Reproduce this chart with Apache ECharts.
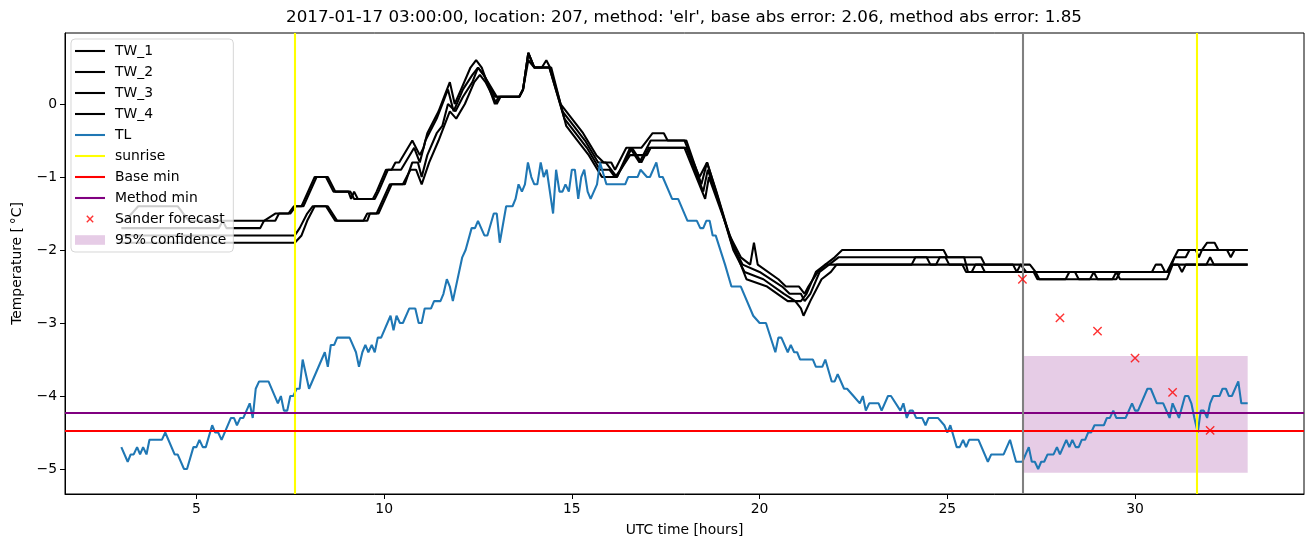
<!DOCTYPE html>
<html>
<head>
<meta charset="utf-8">
<script src="https://cdn.jsdelivr.net/npm/echarts@6/dist/echarts.min.js"></script>
<style>
html,body{margin:0;padding:0;background:#fff;}
#chart{width:1313px;height:547px;}
</style>
</head>
<body>
<div id="chart"></div>
<script>
// ---- data (hours UTC, temperature in °C) ----
const xTicks = [5, 10, 15, 20, 25, 30];
const yTicks = [-5, -4, -3, -2, -1, 0];

const TL = [[3.00,-4.7],[3.17,-4.9],[3.25,-4.8],[3.33,-4.8],[3.42,-4.7],[3.50,-4.8],[3.58,-4.7],[3.67,-4.8],[3.75,-4.6],[4.08,-4.6],[4.17,-4.5],[4.42,-4.8],[4.50,-4.8],[4.67,-5.0],[4.75,-5.0],[4.92,-4.7],[5.00,-4.7],[5.08,-4.6],[5.17,-4.7],[5.25,-4.7],[5.42,-4.4],[5.50,-4.5],[5.58,-4.5],[5.67,-4.6],[5.92,-4.3],[6.00,-4.3],[6.08,-4.4],[6.17,-4.3],[6.25,-4.3],[6.42,-4.1],[6.50,-4.3],[6.58,-3.9],[6.67,-3.8],[6.92,-3.8],[7.17,-4.1],[7.25,-4.0],[7.33,-4.2],[7.42,-4.2],[7.50,-4.0],[7.58,-4.0],[7.67,-3.9],[7.75,-3.9],[7.83,-3.5],[8.00,-3.9],[8.42,-3.4],[8.50,-3.6],[8.58,-3.3],[8.67,-3.3],[8.75,-3.2],[9.08,-3.2],[9.25,-3.4],[9.33,-3.6],[9.42,-3.4],[9.50,-3.3],[9.58,-3.4],[9.67,-3.3],[9.75,-3.4],[9.83,-3.2],[9.92,-3.2],[10.17,-2.9],[10.25,-3.1],[10.33,-2.9],[10.42,-3.0],[10.50,-3.0],[10.67,-2.8],[10.83,-2.8],[10.92,-3.0],[11.00,-3.0],[11.08,-2.8],[11.25,-2.8],[11.33,-2.7],[11.50,-2.7],[11.58,-2.6],[11.67,-2.4],[11.75,-2.5],[11.83,-2.7],[12.08,-2.1],[12.17,-2.0],[12.33,-1.7],[12.42,-1.7],[12.50,-1.6],[12.67,-1.8],[12.75,-1.8],[12.92,-1.5],[13.00,-1.5],[13.08,-1.9],[13.25,-1.4],[13.42,-1.4],[13.50,-1.3],[13.58,-1.1],[13.67,-1.2],[13.75,-1.1],[13.83,-0.8],[13.92,-1.0],[14.00,-1.1],[14.08,-1.1],[14.17,-0.8],[14.25,-1.0],[14.33,-0.9],[14.50,-1.5],[14.58,-0.9],[14.67,-1.2],[14.75,-1.2],[14.83,-1.1],[14.92,-1.2],[15.00,-0.9],[15.08,-0.9],[15.17,-1.3],[15.25,-1.0],[15.33,-0.9],[15.42,-1.2],[15.50,-1.3],[15.67,-1.1],[15.75,-0.8],[15.92,-1.1],[16.42,-1.1],[16.50,-1.0],[16.75,-1.0],[16.83,-0.9],[17.00,-1.0],[17.08,-1.0],[17.25,-0.8],[17.33,-1.0],[17.42,-1.0],[17.67,-1.3],[17.83,-1.3],[18.08,-1.6],[18.33,-1.6],[18.42,-1.7],[18.50,-1.7],[18.58,-1.6],[18.67,-1.6],[18.75,-1.8],[18.83,-1.8],[19.08,-2.2],[19.25,-2.5],[19.50,-2.5],[19.83,-2.9],[20.00,-3.0],[20.17,-3.0],[20.42,-3.4],[20.50,-3.2],[20.58,-3.2],[20.75,-3.4],[20.83,-3.3],[20.92,-3.4],[21.00,-3.4],[21.08,-3.5],[21.42,-3.5],[21.50,-3.6],[21.67,-3.6],[21.75,-3.5],[21.92,-3.8],[22.00,-3.8],[22.08,-3.7],[22.25,-3.9],[22.33,-3.9],[22.50,-4.0],[22.67,-4.1],[22.75,-4.0],[22.83,-4.2],[22.92,-4.1],[23.17,-4.1],[23.25,-4.2],[23.42,-4.0],[23.50,-4.0],[23.75,-4.2],[23.83,-4.1],[23.92,-4.3],[24.00,-4.2],[24.08,-4.2],[24.17,-4.3],[24.33,-4.3],[24.42,-4.4],[24.50,-4.3],[24.75,-4.3],[24.92,-4.4],[25.00,-4.5],[25.08,-4.4],[25.25,-4.7],[25.33,-4.7],[25.42,-4.6],[25.50,-4.7],[25.58,-4.6],[25.83,-4.6],[26.08,-4.9],[26.17,-4.8],[26.50,-4.8],[26.67,-4.6],[26.83,-4.9],[27.00,-4.9],[27.17,-4.7],[27.25,-4.9],[27.33,-4.9],[27.42,-5.0],[27.50,-4.9],[27.58,-4.9],[27.67,-4.8],[27.83,-4.8],[27.92,-4.7],[28.00,-4.8],[28.17,-4.6],[28.25,-4.7],[28.33,-4.6],[28.42,-4.7],[28.50,-4.7],[28.58,-4.6],[28.67,-4.6],[28.75,-4.5],[28.83,-4.5],[28.92,-4.4],[29.17,-4.4],[29.25,-4.3],[29.33,-4.3],[29.42,-4.2],[29.50,-4.3],[29.75,-4.3],[29.92,-4.1],[30.00,-4.2],[30.08,-4.2],[30.33,-3.9],[30.42,-3.9],[30.58,-4.1],[30.75,-4.1],[30.92,-4.3],[31.00,-4.1],[31.17,-4.3],[31.33,-4.0],[31.42,-4.0],[31.50,-4.1],[31.58,-4.3],[31.67,-4.5],[31.75,-4.2],[31.83,-4.2],[31.92,-4.3],[32.00,-4.1],[32.08,-4.0],[32.25,-4.0],[32.33,-3.9],[32.42,-3.9],[32.50,-4.0],[32.58,-4.0],[32.75,-3.8],[32.83,-4.1],[33.00,-4.1]];

const TW_1 = [[3.0,-1.6],[3.1,-1.6],[3.45,-1.4],[4.5,-1.4],[4.8,-1.6],[6.8,-1.6],[7.1,-1.5],[7.45,-1.5],[7.6,-1.4],[7.8,-1.4],[8.15,-1.0],[8.5,-1.0],[8.7,-1.2],[9.05,-1.2],[9.12,-1.3],[9.2,-1.2],[9.3,-1.3],[9.7,-1.3],[9.8,-1.2],[10.05,-0.9],[10.2,-0.9],[10.3,-0.8],[10.4,-0.8],[10.75,-0.5],[10.95,-0.7],[11.05,-0.6],[11.15,-0.4],[11.45,-0.1],[11.6,0.1],[11.75,0.3],[11.88,0.0],[12.05,0.2],[12.3,0.5],[12.45,0.6],[12.6,0.5],[12.95,0.0],[13.05,0.1],[13.6,0.1],[13.7,0.2],[13.84,0.7],[14.0,0.5],[14.2,0.5],[14.32,0.6],[14.42,0.5],[14.7,0.0],[15.0,-0.2],[15.3,-0.4],[15.65,-0.7],[15.85,-0.8],[16.05,-0.8],[16.15,-0.9],[16.45,-0.6],[16.85,-0.6],[17.0,-0.5],[17.15,-0.4],[17.45,-0.4],[17.55,-0.5],[18.0,-0.5],[18.4,-1.0],[18.6,-0.8],[18.85,-1.2],[19.2,-1.8],[19.5,-2.1],[19.75,-2.2],[19.85,-1.9],[19.95,-2.2],[20.5,-2.4],[20.7,-2.5],[21.05,-2.5],[21.2,-2.6],[21.3,-2.5],[21.55,-2.3],[21.75,-2.2],[22.0,-2.1],[22.2,-2.0],[24.9,-2.0],[25.0,-2.1],[25.9,-2.1],[26.0,-2.2],[26.95,-2.2],[27.1,-2.3],[30.85,-2.3],[31.05,-2.1],[31.15,-2.0],[31.62,-2.0],[31.7,-2.1],[31.78,-2.0],[31.92,-1.9],[32.12,-1.9],[32.22,-2.0],[32.45,-2.0],[32.55,-2.1],[32.65,-2.0],[33.0,-2.0]];

const TW_2 = [[3.0,-1.7],[5.6,-1.7],[5.7,-1.6],[5.8,-1.7],[6.7,-1.7],[6.8,-1.6],[7.1,-1.6],[7.2,-1.5],[7.5,-1.5],[7.65,-1.4],[7.85,-1.4],[8.2,-1.0],[8.45,-1.0],[8.65,-1.2],[9.1,-1.2],[9.2,-1.3],[9.75,-1.3],[9.85,-1.2],[10.1,-0.9],[10.45,-0.9],[10.8,-0.6],[10.95,-0.8],[11.1,-0.5],[11.4,-0.2],[11.55,0.0],[11.7,0.2],[11.85,-0.1],[12.1,0.2],[12.35,0.4],[12.5,0.5],[12.65,0.4],[12.95,0.1],[13.6,0.1],[13.7,0.2],[13.84,0.7],[14.0,0.5],[14.4,0.5],[14.75,-0.1],[15.05,-0.3],[15.35,-0.5],[15.7,-0.8],[15.9,-0.8],[16.2,-1.0],[16.55,-0.6],[16.8,-0.8],[17.0,-0.6],[17.1,-0.5],[18.05,-0.5],[18.45,-1.1],[18.6,-0.8],[18.9,-1.3],[19.25,-1.9],[19.55,-2.2],[20.0,-2.3],[20.6,-2.5],[20.8,-2.6],[21.1,-2.6],[21.2,-2.7],[21.35,-2.6],[21.6,-2.3],[21.85,-2.2],[22.1,-2.1],[25.45,-2.1],[25.55,-2.3],[25.65,-2.3],[25.75,-2.2],[26.75,-2.2],[26.85,-2.3],[26.95,-2.2],[27.2,-2.2],[27.35,-2.3],[28.15,-2.3],[28.3,-2.3],[30.45,-2.3],[30.55,-2.2],[30.7,-2.2],[30.8,-2.3],[30.9,-2.3],[31.05,-2.1],[31.35,-2.1],[31.45,-2.0],[33.0,-2.0]];

const TW_3 = [[3.0,-1.8],[6.2,-1.8],[7.62,-1.8],[7.75,-1.7],[7.95,-1.5],[8.1,-1.4],[8.5,-1.4],[8.75,-1.6],[9.45,-1.6],[9.55,-1.5],[9.8,-1.5],[10.15,-1.1],[10.55,-1.1],[10.75,-0.8],[10.9,-0.8],[11.0,-1.0],[11.15,-0.7],[11.4,-0.4],[11.55,-0.3],[11.7,0.0],[11.9,-0.1],[12.1,0.1],[12.35,0.3],[12.5,0.5],[12.65,0.4],[13.0,0.1],[13.6,0.1],[13.7,0.2],[13.84,0.7],[14.0,0.5],[14.4,0.5],[14.8,-0.2],[15.1,-0.4],[15.4,-0.6],[15.75,-0.9],[16.0,-0.9],[16.15,-1.0],[16.3,-0.9],[16.55,-0.7],[17.0,-0.7],[17.1,-0.6],[18.05,-0.6],[18.5,-1.2],[18.62,-0.9],[18.95,-1.4],[19.3,-2.0],[19.6,-2.3],[20.1,-2.4],[20.65,-2.6],[20.95,-2.7],[21.1,-2.8],[21.17,-2.9],[21.35,-2.7],[21.65,-2.4],[21.9,-2.3],[22.05,-2.2],[24.05,-2.2],[24.15,-2.1],[24.45,-2.1],[24.55,-2.2],[24.7,-2.2],[24.8,-2.1],[24.95,-2.1],[25.05,-2.2],[25.9,-2.2],[26.0,-2.3],[27.3,-2.3],[27.4,-2.4],[28.15,-2.4],[28.25,-2.3],[28.4,-2.3],[28.5,-2.4],[28.8,-2.4],[28.9,-2.3],[29.0,-2.4],[29.4,-2.4],[29.5,-2.3],[29.6,-2.4],[30.85,-2.4],[31.0,-2.2],[31.9,-2.2],[32.0,-2.1],[32.1,-2.2],[33.0,-2.2]];

const TW_4 = [[3.0,-1.9],[6.25,-1.9],[7.62,-1.9],[7.8,-1.8],[7.95,-1.6],[8.15,-1.4],[8.45,-1.4],[8.7,-1.6],[9.55,-1.6],[9.62,-1.5],[9.85,-1.5],[10.2,-1.1],[10.5,-1.1],[10.7,-0.9],[10.85,-0.9],[11.0,-1.1],[11.2,-0.8],[11.45,-0.5],[11.6,-0.3],[11.75,-0.1],[11.92,-0.2],[12.15,0.0],[12.4,0.3],[12.55,0.4],[12.7,0.3],[13.0,0.0],[13.1,0.1],[13.6,0.1],[13.7,0.2],[13.84,0.6],[14.0,0.5],[14.45,0.5],[14.85,-0.3],[15.15,-0.5],[15.45,-0.7],[15.8,-1.0],[16.2,-1.0],[16.4,-0.8],[16.6,-0.6],[16.85,-0.8],[17.05,-0.6],[18.0,-0.6],[18.55,-1.3],[18.65,-1.0],[19.0,-1.5],[19.35,-2.0],[19.65,-2.4],[20.2,-2.5],[20.75,-2.7],[21.1,-2.7],[21.25,-2.6],[21.5,-2.3],[21.75,-2.2],[22.0,-2.2],[25.4,-2.2],[25.5,-2.3],[27.35,-2.3],[27.45,-2.4],[29.5,-2.4],[29.6,-2.3],[30.85,-2.3],[31.0,-2.2],[31.15,-2.2],[31.25,-2.3],[31.35,-2.2],[33.0,-2.2]];

const sunriseHours = [7.63, 31.65];
const forecastHour = 27.0;
const baseMin = -4.466;
const methodMin = -4.233;
const sanderForecast = [[27,-2.40],[28,-2.93],[29,-3.11],[30,-3.48],[31,-3.95],[32,-4.47]];
const confidenceHours = [27.0, 33.0];
const confidenceBand = [-5.05, -3.45];

const titleText = "2017-01-17 03:00:00, location: 207, method: 'elr', base abs error: 2.06, method abs error: 1.85";

// ---- chart ----
const FONT = 'DejaVu Sans';
const FS = 13.9;
const LW = 2.08;
const chart = echarts.init(document.getElementById('chart'), null, {renderer: 'canvas'});
const lineIcon = 'path://M0,0H30V2.08H0Z';
// filled "x" glyph (no stroke), padded to a 14x14 box with bare move-to points
const xIcon = 'path://M0,0M14,14M3.3,4.3L4.3,3.3L7,6L9.7,3.3L10.7,4.3L8,7L10.7,9.7L9.7,10.7L7,8L4.3,10.7L3.3,9.7L6,7Z';
const rectIcon = 'path://M0,0H28V9H0Z';

function lineSeries(name, data, color, z) {
  return {name, type: 'line', data, symbol: 'none', showSymbol: false, z: z,
    lineStyle: {color, width: LW}, itemStyle: {color}, emphasis: {disabled: true}, animation: false};
}
function vline(name, values, color, key) {
  return {name, type: 'line', data: [], z: 4, itemStyle: {color}, lineStyle: {color},
    markLine: {silent: true, symbol: ['none', 'none'], label: {show: false}, animation: false,
      lineStyle: {color, width: LW, type: 'solid'},
      data: values.map(v => ({[key]: v}))}};
}
function fmtMinus(v) { return String(v).replace('-', '\u2212'); }

const option = {
  animation: false,
  title: {text: titleText, left: 684, top: 9, textAlign: 'center', padding: 0,
    textStyle: {fontFamily: FONT, fontSize: 16.7, fontWeight: 'normal', color: '#000'}},
  grid: {left: 65, right: 9, top: 33, bottom: 53, show: true, borderColor: '#000', borderWidth: 1, backgroundColor: 'transparent'},
  legend: {
    orient: 'vertical', left: 71, top: 39, padding: [5, 7, 5, 4], itemGap: 7, itemWidth: 30, itemHeight: 14,
    backgroundColor: 'rgba(255,255,255,0.8)', borderColor: 'rgba(204,204,204,0.8)', borderWidth: 1, borderRadius: 4,
    textStyle: {fontFamily: FONT, fontSize: FS, lineHeight: 14, color: '#000', padding: [0, 0, 0, 5]},
    selectedMode: false,
    data: [
      {name: 'TW_1', icon: lineIcon, itemStyle: {color: '#000', borderWidth: 0}},
      {name: 'TW_2', icon: lineIcon, itemStyle: {color: '#000', borderWidth: 0}},
      {name: 'TW_3', icon: lineIcon, itemStyle: {color: '#000', borderWidth: 0}},
      {name: 'TW_4', icon: lineIcon, itemStyle: {color: '#000', borderWidth: 0}},
      {name: 'TL', icon: lineIcon, itemStyle: {color: '#1f77b4', borderWidth: 0}},
      {name: 'sunrise', icon: lineIcon, itemStyle: {color: '#ffff00', borderWidth: 0}},
      {name: 'Base min', icon: lineIcon, itemStyle: {color: '#ff0000', borderWidth: 0}},
      {name: 'Method min', icon: lineIcon, itemStyle: {color: '#800080', borderWidth: 0}},
      {name: 'Sander forecast', icon: xIcon, itemStyle: {color: '#ff0000', borderWidth: 0}},
      {name: '95% confidence', icon: rectIcon, itemStyle: {color: 'rgba(128,0,128,0.2)', borderWidth: 0}}
    ]
  },
  xAxis: {
    type: 'value', min: 1.5, max: 34.5,
    name: 'UTC time [hours]', nameLocation: 'middle', nameGap: 29,
    nameTextStyle: {fontFamily: FONT, fontSize: FS, color: '#000'},
    splitLine: {show: false},
    axisLine: {show: true, onZero: false, lineStyle: {color: '#000', width: 1}},
    axisTick: {show: true, customValues: xTicks, length: 5, lineStyle: {color: '#000', width: 1}},
    axisLabel: {customValues: xTicks, margin: 8, fontFamily: FONT, fontSize: FS, color: '#000'}
  },
  yAxis: {
    type: 'value', min: -5.342, max: 0.973,
    name: 'Temperature [\u2009\u00B0C]', nameLocation: 'middle', nameGap: 41,
    nameTextStyle: {fontFamily: FONT, fontSize: FS, color: '#000'},
    splitLine: {show: false},
    axisLine: {show: true, onZero: false, lineStyle: {color: '#000', width: 1}},
    axisTick: {show: true, customValues: yTicks, length: 5, lineStyle: {color: '#000', width: 1}},
    axisLabel: {customValues: yTicks, margin: 8, fontFamily: FONT, fontSize: FS, color: '#000', formatter: fmtMinus}
  },
  series: [
    lineSeries('TW_1', TW_1, '#000', 2),
    lineSeries('TW_2', TW_2, '#000', 2),
    lineSeries('TW_3', TW_3, '#000', 2),
    lineSeries('TW_4', TW_4, '#000', 2),
    lineSeries('TL', TL, '#1f77b4', 3),
    vline('sunrise', sunriseHours, '#ffff00', 'xAxis'),
    vline('Base min', [baseMin], '#ff0000', 'yAxis'),
    vline('Method min', [methodMin], '#800080', 'yAxis'),
    vline('forecast time', [forecastHour], '#808080', 'xAxis'),
    {name: 'Sander forecast', type: 'scatter', data: sanderForecast, z: 5,
      symbol: 'path://M0,0L8,8M8,0L0,8', symbolSize: 8.3,
      itemStyle: {color: 'none', borderColor: '#ff0000', borderWidth: 1.4}, emphasis: {disabled: true}},
    {name: '95% confidence', type: 'line', data: [], z: 1, itemStyle: {color: 'rgba(128,0,128,0.2)'},
      markArea: {silent: true, itemStyle: {color: 'rgba(128,0,128,0.2)'},
        data: [[{coord: [confidenceHours[0], confidenceBand[0]]}, {coord: [confidenceHours[1], confidenceBand[1]]}]]}}
  ]
};
chart.setOption(option);
</script>
</body>
</html>
